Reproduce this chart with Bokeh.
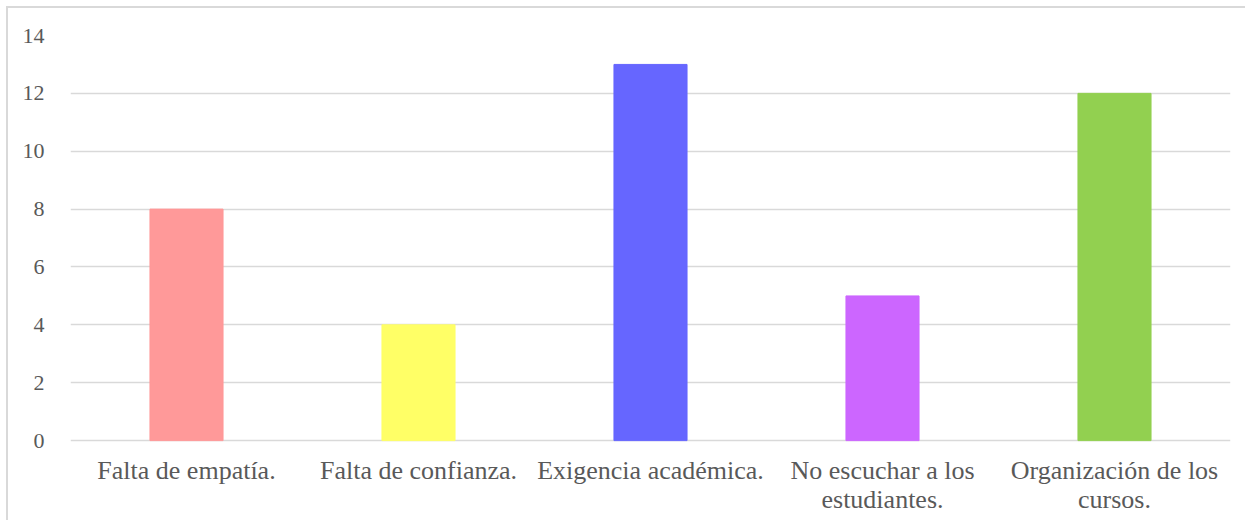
from bokeh.plotting import figure
from bokeh.models import ColumnDataSource, FixedTicker
from bokeh.core.properties import value
from bokeh.embed import file_html
from bokeh.resources import INLINE

categories = ["Falta de empatía.", "Falta de confianza.", "Exigencia académica.",
              "No escuchar a los estudiantes.", "Organización de los cursos."]
labels = ["Falta de empatía.", "Falta de confianza.", "Exigencia académica.",
          "No escuchar a los\nestudiantes.", "Organización de los\ncursos."]
values = [8, 4, 13, 5, 12]
colors = ["#FF9999", "#FFFF66", "#6666FF", "#CC66FF", "#92D050"]
y_ticks = [0, 2, 4, 6, 8, 10, 12, 14]

src = ColumnDataSource(dict(cat=categories, val=values, color=colors,
                            label=labels, base=[0] * len(categories)))

p = figure(x_range=categories, y_range=(-2.83, 14), width=1239, height=514,
           output_backend="svg", toolbar_location=None,
           min_border_left=62, min_border_right=17, min_border_top=27, min_border_bottom=0,
           styles={"margin-left": "6px", "margin-top": "6px",
                   "border-left": "2px solid #d9d9d9", "border-top": "2px solid #d9d9d9"})
p.x_range.range_padding = 0
p.vbar(x="cat", top="val", width=0.315, color="color", source=src)
p.text(x="cat", y="base", text="label", source=src, y_offset=15,
       text_align="center", text_baseline="top",
       text_font=value("Liberation Serif"), text_font_size="26px",
       text_color="#595959", text_line_height=1.0)

p.outline_line_color = None
p.xaxis.visible = False
p.xgrid.grid_line_color = None
p.ygrid.grid_line_color = "#d9d9d9"
p.ygrid.grid_line_width = 1.5
p.yaxis.ticker = FixedTicker(ticks=y_ticks)
p.yaxis.axis_line_color = None
p.yaxis.major_tick_line_color = None
p.yaxis.minor_tick_line_color = None
p.yaxis.major_label_text_font = "Liberation Serif"
p.yaxis.major_label_text_color = "#595959"
p.yaxis.major_label_text_font_size = "22px"
p.yaxis.major_label_standoff = 20

open("out.html", "w").write(file_html(p, INLINE))
